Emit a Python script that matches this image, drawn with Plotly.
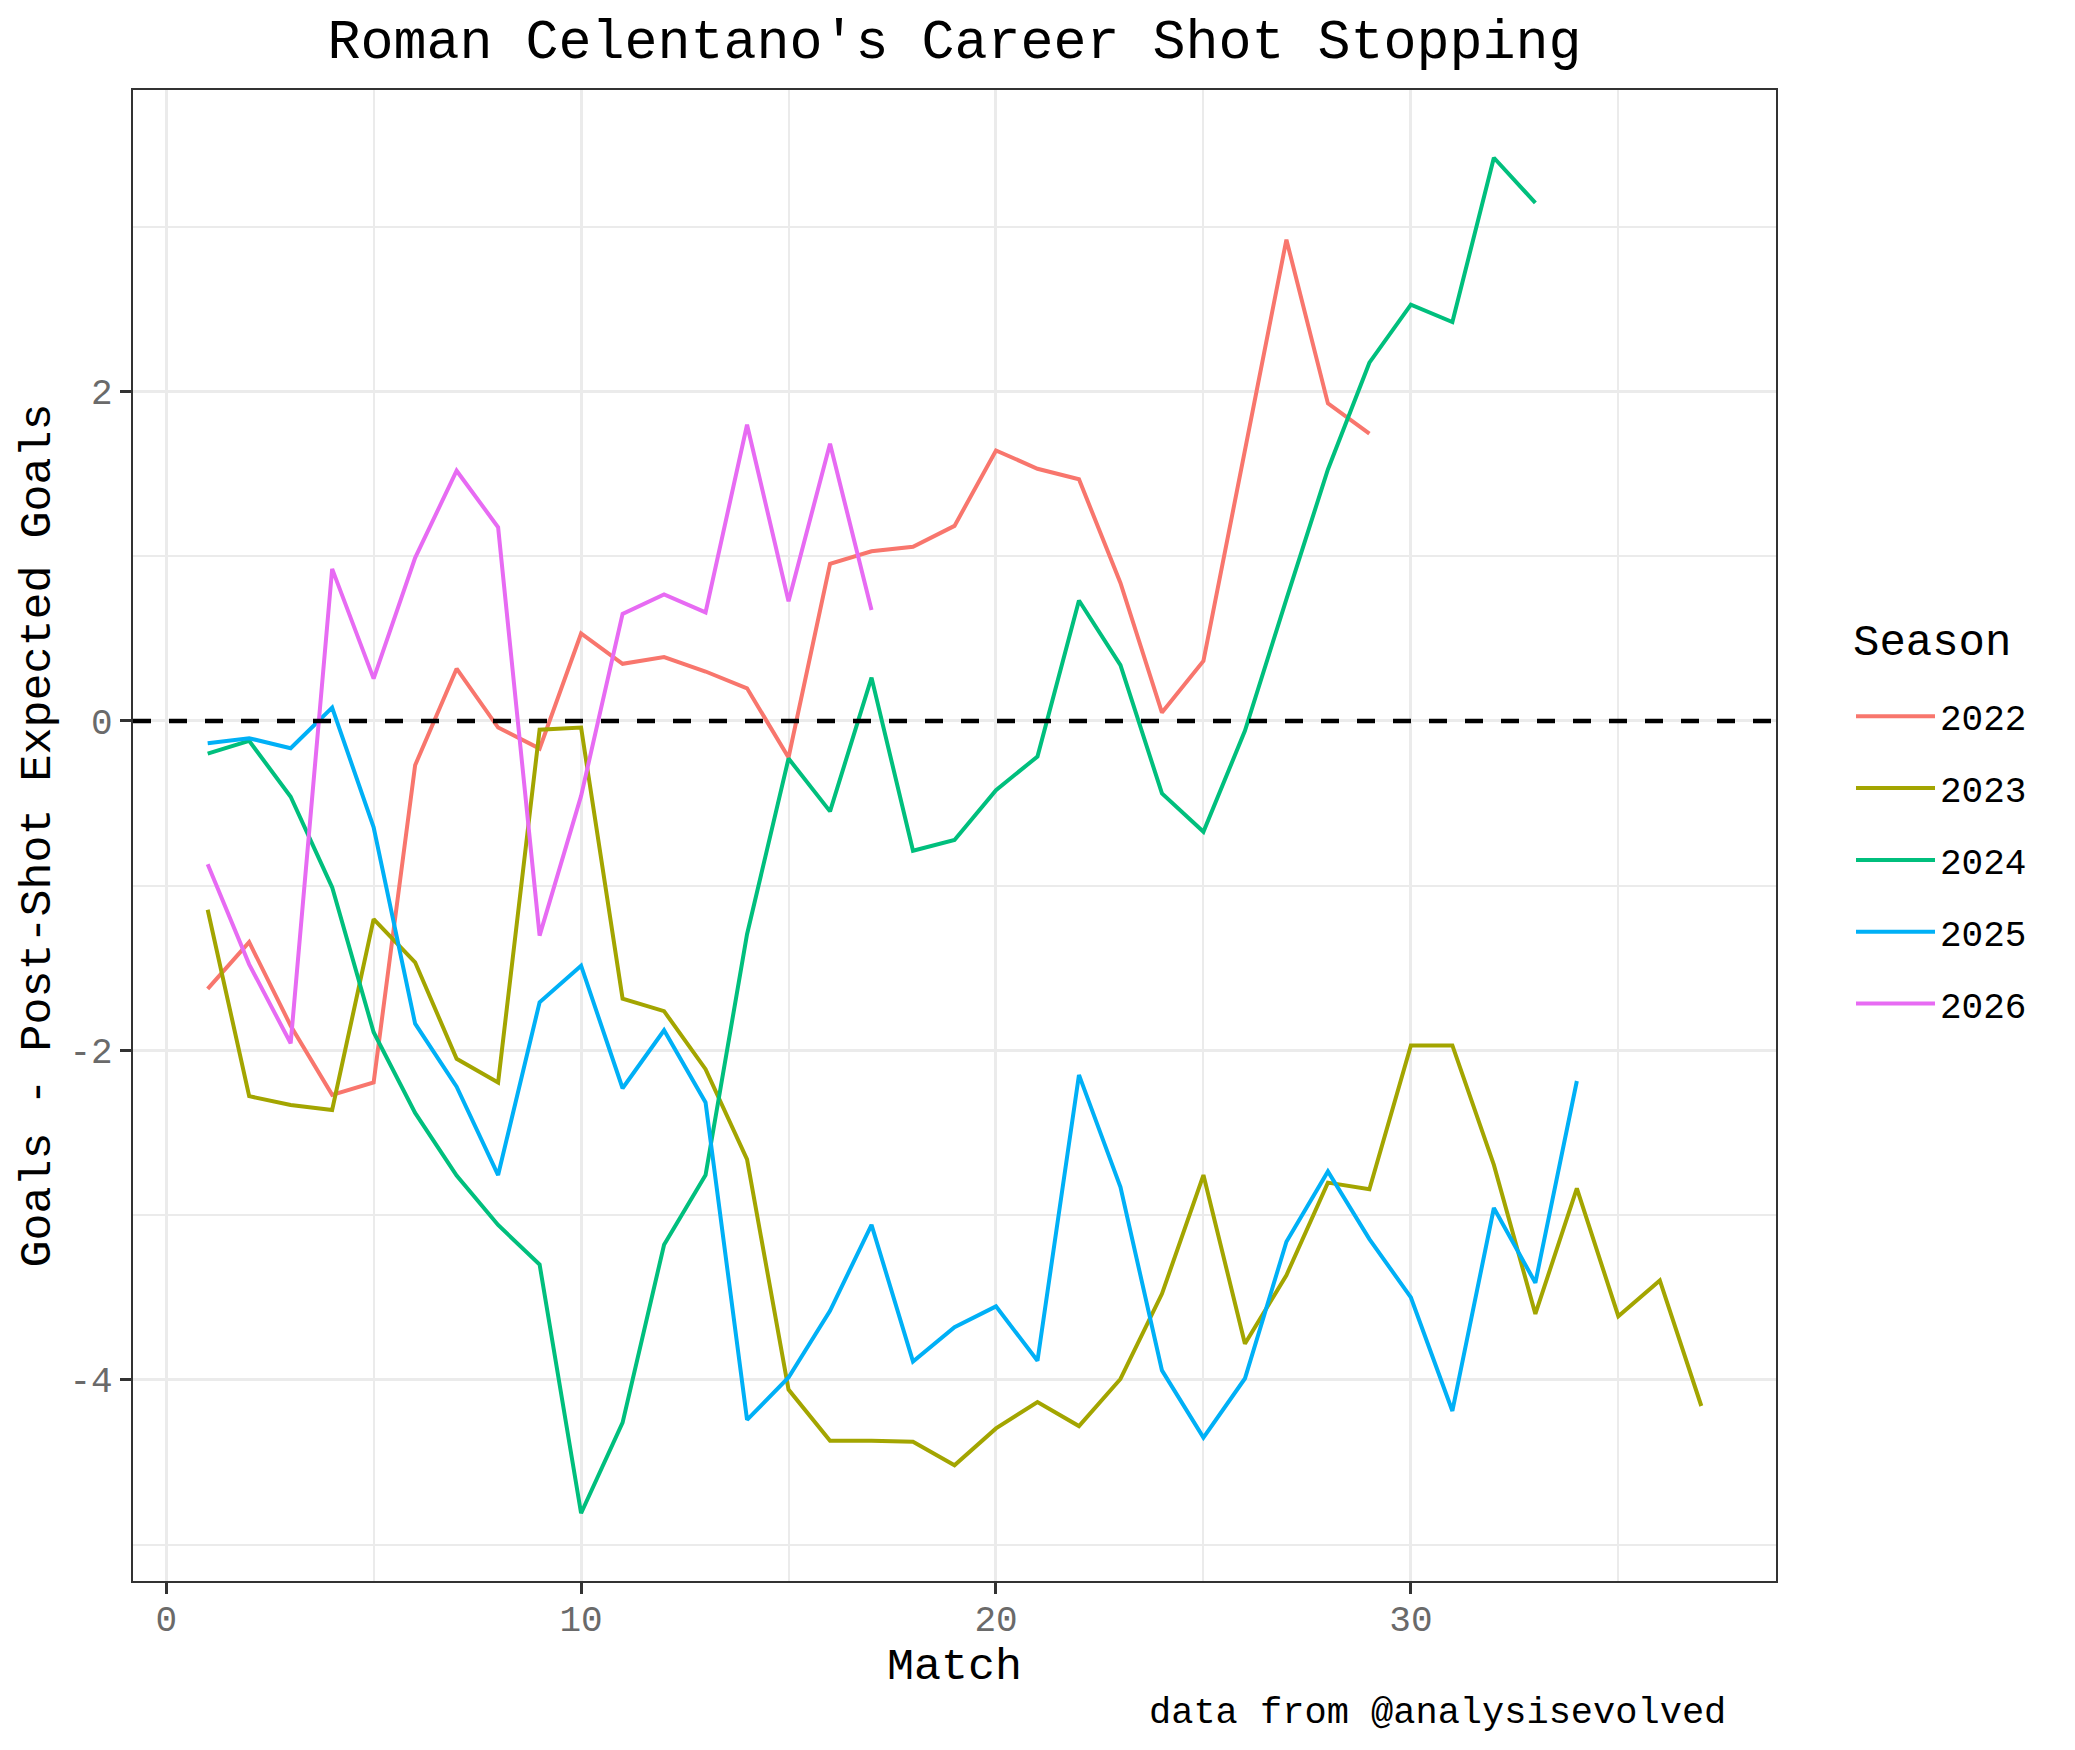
import plotly.graph_objects as go

# ---- data ----
seasons = ["2022", "2023", "2024", "2025", "2026"]
colors = ["#F8766D", "#A3A500", "#00BF7D", "#00B0F6", "#E76BF3"]

v2022 = [-1.627, -1.343, -1.85, -2.27, -2.195, -0.269, 0.317, -0.04, -0.168, 0.531,
         0.347, 0.388, 0.30, 0.198, -0.222, 0.954, 1.030, 1.057, 1.184, 1.642,
         1.531, 1.467, 0.838, 0.051, 0.364, 1.65, 2.922, 1.928, 1.744]
v2023 = [-1.146, -2.278, -2.332, -2.362, -1.203, -1.465, -2.051, -2.195, -0.053, -0.04,
         -1.686, -1.762, -2.114, -2.662, -4.059, -4.370, -4.370, -4.376, -4.519, -4.295,
         -4.135, -4.281, -3.995, -3.478, -2.757, -3.781, -3.365, -2.803, -2.843, -1.97,
         -1.97, -2.695, -3.60, -2.838, -3.614, -3.397, -4.159]
v2024 = [-0.198, -0.121, -0.46, -1.01, -1.89, -2.38, -2.76, -3.06, -3.30, -4.81,
         -4.26, -3.18, -2.757, -1.295, -0.228, -0.549, 0.263, -0.788, -0.723, -0.420,
         -0.216, 0.731, 0.339, -0.440, -0.673, -0.06, 0.74, 1.527, 2.175, 2.527,
         2.422, 3.419, 3.145]
v2025 = [-0.135, -0.105, -0.166, 0.081, -0.646, -1.838, -2.22, -2.757, -1.708, -1.486,
         -2.23, -1.878, -2.316, -4.243, -3.986, -3.581, -3.059, -3.889, -3.681, -3.554,
         -3.884, -2.149, -2.830, -3.943, -4.351, -3.992, -3.162, -2.735, -3.146, -3.50,
         -4.189, -2.957, -3.411, -2.186]
v2026 = [-0.870, -1.478, -1.957, 0.923, 0.257, 0.99, 1.519, 1.176, -1.303, -0.455,
         0.650, 0.768, 0.659, 1.798, 0.727, 1.683, 0.673]

series = [v2022, v2023, v2024, v2025, v2026]

x_ticks = [0, 10, 20, 30]
x_minor = [5, 15, 25, 35]
y_ticks = [-4, -2, 0, 2]
y_tick_text = ["-4", "-2", "0", "2"]
y_minor = [-5, -3, -1, 1, 3]

title_text = "Roman Celentano's Career Shot Stopping"
x_title = "Match"
y_title = "Goals - Post-Shot Expected Goals"
legend_title = "Season"
caption = "data from @analysisevolved"

FONT = "Liberation Mono, Courier New, monospace"

# ---- figure ----
fig = go.Figure()
all_x, all_y = [], []
for name, col, vals in zip(seasons, colors, series):
    xs = list(range(1, len(vals) + 1))
    all_x += xs
    all_y += vals
    fig.add_trace(go.Scatter(
        x=xs, y=vals, mode="lines", name=name, legendgroup=name,
        line=dict(color=col, width=4),
    ))

# ggplot-style 5% expansion
xmin, xmax = min(all_x), max(all_x)
ymin, ymax = min(all_y), max(all_y)
xpad = (xmax - xmin) * 0.05
ypad = (ymax - ymin) * 0.05

fig.add_hline(y=0, line=dict(color="black", width=4.5, dash="18px,18px"), layer="above")

W, H = 2075, 1750
L, R, T, B = 125, 307, 82, 177
PW = W - L - R
PH = H - T - B

fig.update_layout(
    width=W, height=H,
    margin=dict(l=L, r=R, t=T, b=B, autoexpand=False),
    paper_bgcolor="white", plot_bgcolor="white",
    font=dict(family=FONT, color="black"),
    title=dict(text=title_text, x=0.5, xref="paper", xanchor="center",
               y=1 - 31 / H, yref="container", yanchor="middle",
               font=dict(size=55, family=FONT, color="black")),
    legend=dict(
        title=dict(text="<span style='font-size:44px'>" + legend_title + "</span><br> ",
                   font=dict(size=24, family=FONT, color="black")),
        font=dict(size=36, family=FONT, color="black"),
        x=(1843 - L) / PW, xanchor="left", y=1 - (616 - T) / PH, yanchor="top",
        tracegroupgap=22, itemwidth=79, bgcolor="rgba(0,0,0,0)",
    ),
    showlegend=True,
)

fig.update_xaxes(
    range=[xmin - xpad, xmax + xpad],
    tickvals=x_ticks, ticktext=[str(v) for v in x_ticks],
    showgrid=True, gridcolor="#EBEBEB", gridwidth=3.4,
    minor=dict(tickvals=x_minor, showgrid=True, gridcolor="#EBEBEB", gridwidth=1.7, ticks=""),
    zeroline=False,
    showline=True, mirror=True, linecolor="#333333", linewidth=2.2,
    ticks="outside", ticklen=11, tickwidth=2.5, tickcolor="#333333",
    ticklabelstandoff=-6,
    tickfont=dict(size=36, family=FONT, color="#6A6A6A"),
    title=dict(text=x_title, font=dict(size=45, family=FONT, color="black"), standoff=0),
)
fig.update_yaxes(
    range=[ymin - ypad, ymax + ypad],
    tickvals=y_ticks, ticktext=y_tick_text,
    showgrid=True, gridcolor="#EBEBEB", gridwidth=3.4,
    minor=dict(tickvals=y_minor, showgrid=True, gridcolor="#EBEBEB", gridwidth=1.7, ticks=""),
    zeroline=False,
    showline=True, mirror=True, linecolor="#333333", linewidth=2.2,
    ticks="outside", ticklen=11, tickwidth=2.5, tickcolor="#333333",
    tickfont=dict(size=36, family=FONT, color="#6A6A6A"),
    title=dict(text=y_title, font=dict(size=45, family=FONT, color="black"), standoff=5),
)

fig.add_annotation(
    text=caption, xref="paper", yref="paper",
    x=(1720 - L) / PW, xanchor="right",
    y=(H - B - 1705) / PH, yanchor="middle",
    showarrow=False, font=dict(size=37, family=FONT, color="black"),
)

fig.write_html("out.html")
